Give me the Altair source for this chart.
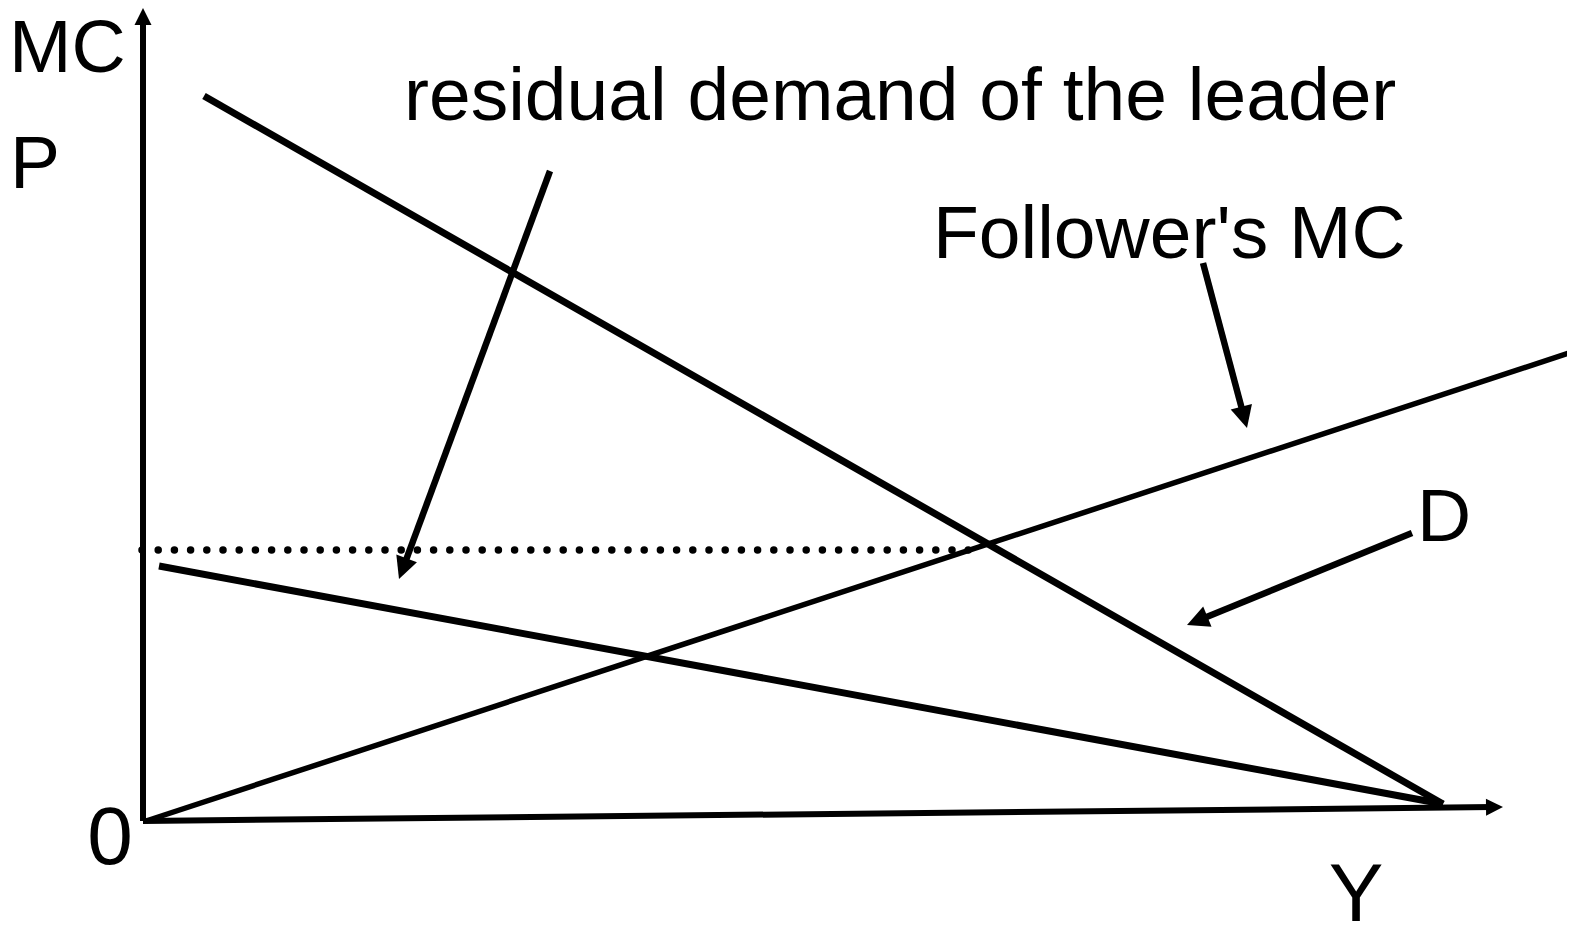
import math
import altair as alt
import pandas as pd

# ---- diagram data (quantity Y on x, price on y; origin of the axes at 0,0) ----
axis_x_tip = [1360, 14]
axis_y_tip = [0, 813]

demand_x = [61, 1300]
demand_y = [725, 17]
residual_x = [16, 1300]
residual_y = [255, 17]
follower_mc_x = [3, 1432]
follower_mc_y = [0, 470]
price_dots_x = [-1, 829]
price_level = 271

label_text = ["MC", "P", "residual demand of the leader", "Follower's MC", "D"]
label_x = [-134, -133, 261, 790, 1274]
label_y = [749, 633, 701, 563, 280]

axis_label_text = ["0", "Y"]
axis_label_x = [-33, 1213]
axis_label_y = [-43, -100]

arrow_from_x = [407, 1060, 1269]
arrow_from_y = [650, 558, 288]
arrow_to_x = [256, 1104, 1044]
arrow_to_y = [242, 393, 196]

X_DOMAIN = [-135, 1424]
Y_DOMAIN = [-100, 813]
W = X_DOMAIN[1] - X_DOMAIN[0]
H = Y_DOMAIN[1] - Y_DOMAIN[0]

xs = alt.Scale(domain=X_DOMAIN, zero=False, nice=False)
ys = alt.Scale(domain=Y_DOMAIN, zero=False, nice=False)

HEAD = "M0,0L-0.5,1L0.5,1Z"
FONT = "Liberation Sans"


def seg_df(x0, y0, x1, y1):
    return pd.DataFrame({"x": x0, "y": y0, "x2": x1, "y2": y1})


def rules(df, width, **kw):
    return alt.Chart(df).mark_rule(color="black", strokeWidth=width, strokeCap="butt", **kw).encode(
        x=alt.X("x:Q", scale=xs, axis=None),
        y=alt.Y("y:Q", scale=ys, axis=None),
        x2="x2:Q",
        y2="y2:Q",
    )


def arrow_parts(fx, fy, tx, ty, head_len):
    shafts = {"x": [], "y": [], "x2": [], "y2": []}
    heads = {"x": [], "y": [], "angle": []}
    for a, b, c, d in zip(fx, fy, tx, ty):
        dx, dy = c - a, d - b
        n = math.hypot(dx, dy)
        ux, uy = dx / n, dy / n
        shafts["x"].append(a)
        shafts["y"].append(b)
        shafts["x2"].append(c - ux * head_len * 0.6)
        shafts["y2"].append(d - uy * head_len * 0.6)
        heads["x"].append(c)
        heads["y"].append(d)
        heads["angle"].append(math.degrees(math.atan2(dx, dy)) % 360)
    return pd.DataFrame(shafts), pd.DataFrame(heads)


def heads_layer(df, head_len):
    return alt.Chart(df).mark_point(
        shape=HEAD, filled=True, color="black", opacity=1, strokeWidth=0, size=(2 * head_len) ** 2
    ).encode(
        x=alt.X("x:Q", scale=xs, axis=None),
        y=alt.Y("y:Q", scale=ys, axis=None),
        angle=alt.Angle("angle:Q", scale=None),
    )


# axes
ax_shaft, ax_heads = arrow_parts([0, 0], [0, 0], [axis_x_tip[0], axis_y_tip[0]],
                                 [axis_x_tip[1], axis_y_tip[1]], 17)
axes = rules(ax_shaft, 6)
axes_heads = heads_layer(ax_heads, 17)

# economic curves
demand = rules(seg_df([demand_x[0]], [demand_y[0]], [demand_x[1]], [demand_y[1]]), 7)
residual = rules(seg_df([residual_x[0]], [residual_y[0]], [residual_x[1]], [residual_y[1]]), 7)
follower = rules(seg_df([follower_mc_x[0]], [follower_mc_y[0]], [follower_mc_x[1]], [follower_mc_y[1]]), 5.5)
dots = alt.Chart(seg_df([price_dots_x[0]], [price_level], [price_dots_x[1]], [price_level])).mark_rule(
    color="black", strokeWidth=7.5, strokeCap="round", strokeDash=[0, 16.2]
).encode(
    x=alt.X("x:Q", scale=xs, axis=None),
    y=alt.Y("y:Q", scale=ys, axis=None),
    x2="x2:Q",
    y2="y2:Q",
)

# annotation arrows
ar_shaft, ar_heads = arrow_parts(arrow_from_x, arrow_from_y, arrow_to_x, arrow_to_y, 22)
arrows = rules(ar_shaft, 6.5)
arrows_heads = heads_layer(ar_heads, 22)

labels = alt.Chart(pd.DataFrame({"x": label_x, "y": label_y, "t": label_text})).mark_text(
    font=FONT, fontSize=75, align="left", baseline="alphabetic", color="black"
).encode(
    x=alt.X("x:Q", scale=xs, axis=None),
    y=alt.Y("y:Q", scale=ys, axis=None),
    text="t:N",
)

axis_labels = alt.Chart(pd.DataFrame({"x": axis_label_x, "y": axis_label_y, "t": axis_label_text})).mark_text(
    font=FONT, fontSize=82, align="center", baseline="alphabetic", color="black"
).encode(
    x=alt.X("x:Q", scale=xs, axis=None),
    y=alt.Y("y:Q", scale=ys, axis=None),
    text="t:N",
)

chart = alt.layer(
    dots, follower, residual, demand, axes, axes_heads, arrows, arrows_heads, labels, axis_labels
).properties(
    width=W, height=H, autosize=alt.AutoSizeParams(type="none"), padding=0, background="white"
).configure_view(stroke=None)

chart.save("out.html", embed_options={"renderer": "svg", "actions": False})
